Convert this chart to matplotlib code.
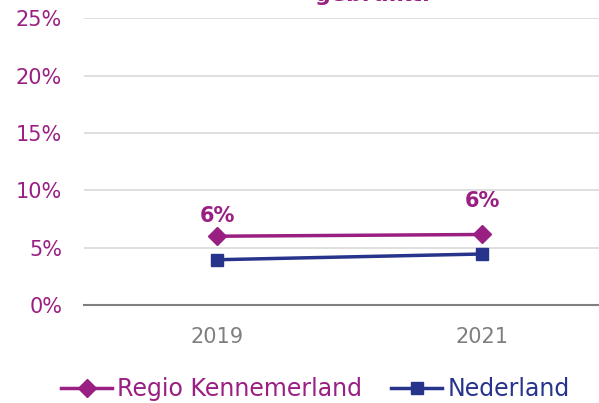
import numpy as np
import matplotlib.pyplot as plt

plt.rcParams['font.family'] = ['DejaVu Sans']

jaren = ['2019', '2021']
kennemerland = [6.0, 6.15]
nederland = [3.95, 4.45]
labels_kennemerland = ['6%', '6%']
yticks = [0, 5, 10, 15, 20, 25]

paars = '#9A1F82'
blauw = '#27348B'

fig = plt.figure(figsize=(5.99, 4.03), dpi=100)
ax = fig.add_axes([0.141, 0.243, 0.885, 0.712])

x = np.arange(len(jaren))
ax.plot(x, kennemerland, color=paars, lw=2.5, marker='D', ms=9.5, label='Regio Kennemerland')
ax.plot(x, nederland, color=blauw, lw=2.5, marker='s', ms=9, label='Nederland')

# labels staan niet even hoog boven de punten
offsets = [7, 17]
for xi, yi, lab, off in zip(x, kennemerland, labels_kennemerland, offsets):
    ax.annotate(lab, (xi, yi), xytext=(0, off), textcoords='offset points',
                ha='center', va='bottom', color=paars, fontsize=15, fontweight='bold')

ax.set_xlim(-0.5, 1.5)
ax.set_ylim(0, 25)
ax.set_xticks(x)
ax.set_xticklabels(jaren, color='#7F7F7F', fontsize=15)
ax.set_yticks(yticks)
ax.set_yticklabels([f'{t}%' for t in yticks], color=paars, fontsize=15)
ax.tick_params(axis='both', length=0)
ax.tick_params(axis='x', pad=16)
ax.tick_params(axis='y', pad=16)
ax.grid(axis='y', color='#D9D9D9', lw=1.2)
ax.set_axisbelow(True)
for s in ['top', 'right', 'left']:
    ax.spines[s].set_visible(False)
ax.spines['bottom'].set_color('#808080')
ax.spines['bottom'].set_linewidth(1.5)

# titel valt grotendeels buiten beeld
fig.text(0.526, 0.998, 'gebruikt.', ha='left', va='baseline', color=paars,
         fontsize=16, fontweight='bold')

leg = fig.legend(loc='center', bbox_to_anchor=(315 / 599, 1 - 389 / 403), ncol=2, frameon=False,
                 fontsize=17, handlelength=2.2, columnspacing=1.2, handletextpad=0.2,
                 borderpad=0, borderaxespad=0)
for txt, c in zip(leg.get_texts(), [paars, blauw]):
    txt.set_color(c)

fig.savefig('out.png', dpi=100)
